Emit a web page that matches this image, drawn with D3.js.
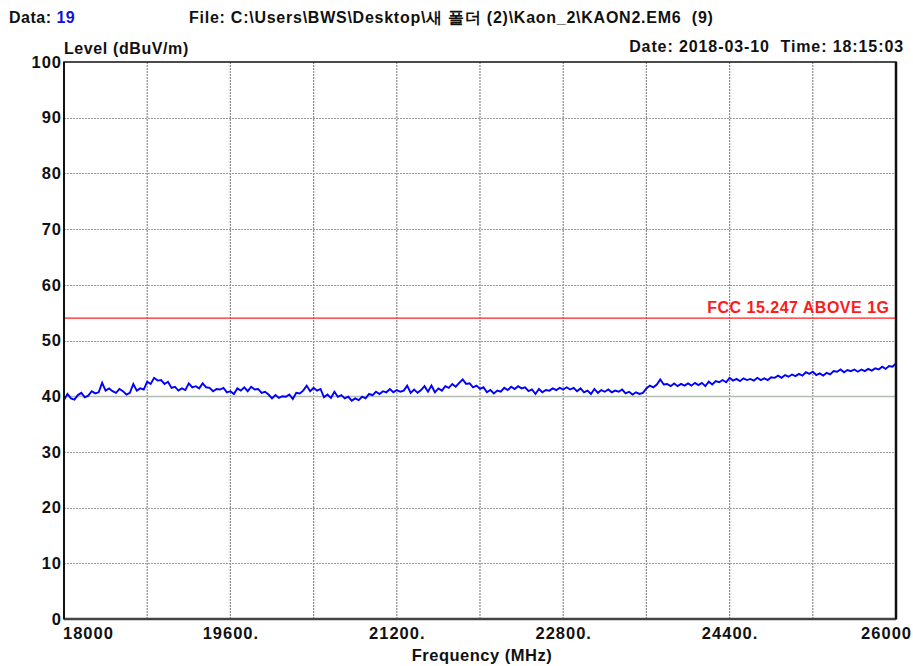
<!DOCTYPE html>
<html>
<head>
<meta charset="utf-8">
<script src="https://cdn.jsdelivr.net/npm/d3@7"></script>
<style>
  html, body { margin: 0; padding: 0; background: #fff; }
  svg { display: block; font-family: "Liberation Sans", Arial, sans-serif; font-weight: bold; }
</style>
</head>
<body>
<svg id="chart" width="913" height="666"></svg>
<script>
// Sweep definition (MHz)
const freqStart = 18000;
const freqStop = 26000;

// Measured level trace (dBuV/m), evenly spaced across the sweep
const levels = [
  39.3, 40.4, 39.6, 39.4, 40.2, 40.6, 39.8, 40.1, 40.9, 40.5,
  40.7, 42.4, 41.0, 41.4, 40.9, 40.6, 41.3, 40.9, 40.3, 40.6,
  42.2, 41.0, 41.4, 41.2, 42.6, 42.2, 43.3, 42.8, 42.9, 42.2,
  42.6, 41.5, 41.7, 41.0, 41.4, 41.1, 42.3, 41.6, 41.8, 41.4,
  42.3, 41.6, 41.5, 40.9, 41.3, 41.2, 41.5, 40.7, 40.9, 40.4,
  41.4, 41.0, 41.6, 40.9, 41.7, 41.2, 41.3, 40.6, 40.8, 40.3,
  39.6, 40.2, 39.7, 40.0, 39.9, 40.3, 39.5, 40.6, 40.5, 41.0,
  41.9, 40.9, 41.5, 41.0, 41.3, 39.8, 40.3, 39.7, 40.8, 39.9,
  40.2, 39.6, 39.9, 39.2, 39.6, 39.3, 39.9, 39.6, 40.4, 40.2,
  40.8, 40.4, 40.9, 40.7, 41.3, 40.7, 41.1, 40.8, 41.0, 41.9,
  40.6, 41.2, 40.6, 41.1, 41.8, 40.8, 41.9, 40.7, 41.4, 41.0,
  41.8, 41.5, 42.2, 41.7, 42.4, 43.0, 42.2, 42.3, 41.6, 41.9,
  41.3, 41.6, 40.7, 41.1, 40.5, 41.0, 40.8, 41.5, 41.1, 41.7,
  41.3, 41.8, 41.4, 41.6, 40.9, 41.2, 40.4, 41.3, 40.7, 41.1,
  41.0, 41.4, 41.1, 41.5, 41.2, 41.6, 41.2, 41.5, 40.9, 41.4,
  40.7, 41.0, 40.4, 41.3, 40.6, 41.1, 40.8, 41.2, 40.7, 41.0,
  40.8, 41.2, 40.5, 40.8, 40.3, 40.7, 40.4, 40.6, 41.4, 41.9,
  41.6, 42.1, 43.0, 42.1, 42.2, 41.8, 42.3, 41.8, 42.2, 41.9,
  42.3, 41.9, 42.4, 42.0, 42.4, 41.8, 42.6, 42.1, 42.7, 42.5,
  42.9, 42.5, 43.3, 42.8, 43.1, 42.7, 43.2, 42.9, 43.1, 42.8,
  43.3, 42.9, 43.2, 42.9, 43.4, 43.3, 43.7, 43.3, 43.8, 43.5,
  43.9, 43.6, 44.0, 43.7, 44.3, 44.0, 44.4, 43.8, 44.1, 43.7,
  44.2, 43.9, 44.5, 44.4, 44.8, 44.3, 44.7, 44.5, 44.8, 44.4,
  44.8, 44.5, 44.9, 44.6, 45.0, 44.8, 45.3, 44.9, 45.4, 45.3,
  45.9
];

// Limit line
const limitLevel = 54;
const limitLabel = "FCC 15.247 ABOVE 1G";

// Axis ticks
const yTicks = [0, 10, 20, 30, 40, 50, 60, 70, 80, 90, 100];
const xGrid = [18000, 18800, 19600, 20400, 21200, 22000, 22800, 23600, 24400, 25200, 26000];
const xTickLabels = [
  { f: 19600, text: "19600." },
  { f: 21200, text: "21200." },
  { f: 22800, text: "22800." },
  { f: 24400, text: "24400." }
];

// Header texts
const dataNo = "19";
const fileText = "File: C:\\Users\\BWS\\Desktop\\새 폴더 (2)\\Kaon_2\\KAON2.EM6  (9)";
const dateText = "Date: 2018-03-10  Time: 18:15:03";

const svg = d3.select("#chart");
const plot = { left: 64, right: 896, top: 62, bottom: 619 };

const x = d3.scaleLinear().domain([freqStart, freqStop]).range([plot.left, plot.right]);
const y = d3.scaleLinear().domain([0, 100]).range([plot.bottom, plot.top]);

const step = (freqStop - freqStart) / (levels.length - 1);
const trace = levels.map((v, i) => ({ f: freqStart + i * step, v }));

// Grid
const grid = svg.append("g");
grid.selectAll("line.v").data(xGrid.slice(1, -1)).join("line")
  .attr("x1", d => x(d)).attr("x2", d => x(d))
  .attr("y1", plot.top).attr("y2", plot.bottom)
  .attr("stroke", "#8a8a8a").attr("stroke-width", 1.2)
  .attr("stroke-dasharray", "2,1");
grid.selectAll("line.h").data(yTicks.slice(1, -1)).join("line")
  .attr("x1", plot.left).attr("x2", plot.right)
  .attr("y1", d => Math.round(y(d)) + 0.5).attr("y2", d => Math.round(y(d)) + 0.5)
  .attr("stroke", d => d === 40 ? "#b2bcb2" : "#9a9a9a")
  .attr("stroke-width", d => d === 40 ? 1.6 : 1)
  .attr("stroke-dasharray", d => d === 40 ? null : "2,1");

// Limit line and label
svg.append("line")
  .attr("x1", plot.left).attr("x2", plot.right - 1)
  .attr("y1", y(limitLevel)).attr("y2", y(limitLevel))
  .attr("stroke", "#ff2020").attr("stroke-width", 1.3);
svg.append("text")
  .attr("x", 889.5).attr("y", y(limitLevel) - 5)
  .attr("text-anchor", "end").attr("font-size", 16).attr("letter-spacing", 0.5)
  .attr("fill", "#ff1a1a").text(limitLabel);

// Trace
svg.append("path")
  .datum(trace)
  .attr("fill", "none").attr("stroke", "#0000ff").attr("stroke-width", 1.9)
  .attr("stroke-linejoin", "miter")
  .attr("d", d3.line().x(d => x(d.f)).y(d => y(d.v)));

// Frame
svg.append("rect")
  .attr("x", plot.left).attr("y", plot.top)
  .attr("width", plot.right - plot.left).attr("height", plot.bottom - plot.top)
  .attr("fill", "none").attr("stroke", "#111").attr("stroke-width", 1.5);
svg.append("line")
  .attr("x1", plot.left).attr("x2", plot.right)
  .attr("y1", plot.bottom).attr("y2", plot.bottom)
  .attr("stroke", "#444").attr("stroke-width", 2.5);
svg.append("line")
  .attr("x1", plot.right).attr("x2", plot.right)
  .attr("y1", plot.top).attr("y2", plot.bottom)
  .attr("stroke", "#111").attr("stroke-width", 2.5);
svg.append("line")
  .attr("x1", plot.left).attr("x2", plot.left)
  .attr("y1", plot.top).attr("y2", plot.bottom)
  .attr("stroke", "#111").attr("stroke-width", 2);

// Y axis labels
svg.append("g").selectAll("text").data(yTicks).join("text")
  .attr("x", 62).attr("y", d => y(d))
  .attr("dy", "0.35em").attr("text-anchor", "end")
  .attr("font-size", 16.5).attr("letter-spacing", 1).attr("fill", "#111")
  .text(d => d);

// X axis labels
const xl = svg.append("g").attr("font-size", 16.5).attr("letter-spacing", 1).attr("fill", "#111");
xl.append("text").attr("x", x(freqStart) - 1).attr("y", 639).attr("text-anchor", "start").text(String(freqStart));
xl.append("text").attr("x", x(freqStop) + 16).attr("y", 639).attr("text-anchor", "end").text(String(freqStop));
xl.selectAll("text.mid").data(xTickLabels).join("text")
  .attr("x", d => x(d.f) + 0.5).attr("y", 639).attr("text-anchor", "middle").text(d => d.text);

svg.append("text")
  .attr("x", 482).attr("y", 661).attr("text-anchor", "middle")
  .attr("font-size", 16.5).attr("letter-spacing", 0.5).attr("fill", "#111").text("Frequency (MHz)");

// Axis title and header
svg.append("text")
  .attr("x", 64).attr("y", 54).attr("font-size", 16).attr("letter-spacing", 0.6).attr("fill", "#111")
  .text("Level (dBuV/m)");

const hdr = svg.append("text").attr("x", 9).attr("y", 23).attr("font-size", 16)
  .attr("letter-spacing", 0.5).attr("fill", "#111");
hdr.append("tspan").text("Data: ");
hdr.append("tspan").attr("fill", "#1010e0").text(dataNo);

svg.append("text")
  .attr("x", 189).attr("y", 23).attr("font-size", 16).attr("letter-spacing", 0.75).attr("fill", "#111")
  .style("white-space", "pre")
  .text(fileText);

svg.append("text")
  .attr("x", 904).attr("y", 52).attr("text-anchor", "end")
  .attr("font-size", 16).attr("letter-spacing", 0.9).attr("fill", "#111")
  .style("white-space", "pre")
  .text(dateText);
</script>
</body>
</html>
